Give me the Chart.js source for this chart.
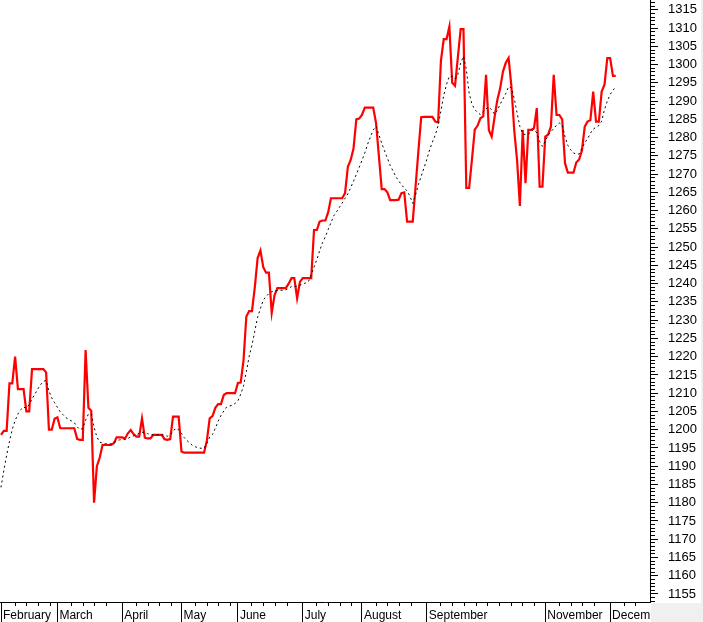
<!DOCTYPE html>
<html>
<head>
<meta charset="utf-8">
<script src="https://cdn.jsdelivr.net/npm/chart.js@4.4.0/dist/chart.umd.min.js"></script>
<style>
  html, body { margin: 0; padding: 0; background: #fff; }
  canvas { display: block; }
</style>
</head>
<body>
<canvas id="chart" width="703" height="622"></canvas>
<script>
// month labels and the trading day each month starts on
const monthNames = ['February', 'March', 'April', 'May', 'June', 'July', 'August', 'September', 'November', 'December'];
const monthStarts = [0, 20, 43, 64, 84, 107, 128, 151, 193, 216];

// daily closes (red)
const price = [
  1198.6, 1199.7, 1199.7, 1212.7, 1212.7, 1220, 1211.1, 1211.1, 1211.1, 1205,
  1205, 1216.6, 1216.6, 1216.6, 1216.6, 1216.6, 1215.7, 1200, 1200, 1203,
  1203.4, 1200.4, 1200.4, 1200.4, 1200.4, 1200.4, 1200.4, 1197.5, 1197.2, 1197.2,
  1221.8, 1206, 1205.2, 1180, 1190, 1192.3, 1195.8, 1195.8, 1195.8, 1195.8,
  1196.3, 1197.9, 1197.9, 1197.9, 1197.6, 1199, 1199.9, 1198.8, 1198.1, 1198.1,
  1203.1, 1197.8, 1197.6, 1197.6, 1198.6, 1198.6, 1198.6, 1198.6, 1197.4, 1197.2,
  1197.4, 1203.6, 1203.6, 1203.6, 1194, 1193.7, 1193.7, 1193.7, 1193.7, 1193.7,
  1193.7, 1193.7, 1193.7, 1197, 1203.1, 1203.7, 1206, 1207, 1207, 1209.5,
  1210, 1210, 1210, 1210, 1212.8, 1212.9, 1219, 1231, 1232.5, 1232.5,
  1239, 1247, 1249.1, 1244.5, 1243, 1243, 1232, 1236.8, 1238.8, 1238.8,
  1238.8, 1238.8, 1240, 1241.5, 1241.5, 1236, 1240.5, 1241.5, 1241.5, 1241.5,
  1241.5, 1254.7, 1254.7, 1257, 1257.3, 1257.3, 1259.5, 1263.4, 1263.4, 1263.4,
  1263.4, 1263.4, 1264.8, 1272, 1273.9, 1277, 1285, 1285.2, 1286.2, 1288.2,
  1288.2, 1288.2, 1288.2, 1284, 1275, 1265.9, 1265.9, 1265, 1262.9, 1262.9,
  1262.9, 1263, 1264.8, 1265, 1257, 1257, 1257, 1266.5, 1276.2, 1285.6,
  1285.7, 1285.7, 1285.7, 1285.7, 1284.4, 1284.2, 1301, 1307, 1307, 1310.4,
  1295, 1294.2, 1302, 1309.7, 1309.7, 1266.2, 1266.2, 1274, 1282.2, 1283.3,
  1285.3, 1285.8, 1297.2, 1282, 1280.3, 1285.5, 1290.3, 1293.5, 1298.1, 1300.5,
  1301.8, 1294, 1282, 1273.9, 1261.3, 1282.1, 1267.5, 1282.1, 1282.1, 1282.6,
  1288.1, 1266.6, 1266.6, 1280.3, 1280.8, 1283, 1297.2, 1286.2, 1286.2, 1285,
  1273, 1270.4, 1270.4, 1270.4, 1273.2, 1274, 1276.5, 1283, 1284.4, 1284.8,
  1292.6, 1284.4, 1284.4, 1292.6, 1294.5, 1301.8, 1301.8, 1296.9, 1296.9
];

// moving average (black dotted)
const average = [
  1184.2, 1188.8, 1193, 1196.8, 1200.1, 1202.5, 1204.3, 1205.5, 1206.2, 1205.9,
  1206.9, 1208.4, 1209.7, 1211.1, 1212.3, 1213.2, 1213.5, 1210.6, 1208.7, 1207.4,
  1206.1, 1204.9, 1204.1, 1203.3, 1202.8, 1202.4, 1201.9, 1200.8, 1200, 1200.4,
  1202.6, 1204.3, 1204.3, 1200.7, 1198, 1196.6, 1196.3, 1196.2, 1196.1, 1196.1,
  1196.3, 1196.9, 1197.2, 1197.3, 1197.3, 1197.6, 1198, 1198.3, 1198.6, 1199,
  1199.3, 1199.3, 1198.9, 1198.6, 1198.6, 1198.6, 1198.6, 1198.6, 1198.5, 1198.2,
  1198.6, 1199.5, 1200.4, 1200, 1199, 1197.8, 1197, 1196.3, 1195.6, 1195.3,
  1195, 1194.9, 1194.9, 1196.2, 1198, 1198.7, 1200.4, 1202.3, 1203.9, 1205.1,
  1206.2, 1206.5, 1206.7, 1207.2, 1207.9, 1209.7, 1212, 1215.9, 1220.1, 1223.2,
  1227, 1230.8, 1233.2, 1235.5, 1236.5, 1237.3, 1237.8, 1238, 1238.1, 1238.2,
  1238.2, 1238.3, 1238.7, 1239.2, 1239.2, 1239.3, 1239.6, 1239.9, 1240.2, 1240.5,
  1242.5, 1244.5, 1246.6, 1249, 1251.2, 1252.8, 1254.8, 1256.7, 1258.6, 1259.7,
  1260.9, 1262.1, 1263.4, 1264.6, 1266.3, 1268.1, 1269.9, 1271.8, 1273.8, 1275.8,
  1278.2, 1280.2, 1282.1, 1283.1, 1280.8, 1278.5, 1276.4, 1274.4, 1272.4, 1270.9,
  1269.3, 1268.2, 1267.1, 1266.2, 1265.4, 1264, 1262, 1264.3, 1267.1, 1269.4,
  1271.7, 1274.1, 1276.7, 1278.8, 1280.7, 1283.3, 1287.3, 1291.6, 1294.6, 1296.8,
  1296.8, 1296.1, 1297.3, 1300.4, 1302.3, 1298.7, 1292.2, 1289.2, 1287.7, 1286.9,
  1286.3, 1287.1, 1287.9, 1288.4, 1287.6, 1286.4, 1287.5, 1289.1, 1290.6, 1292.1,
  1294, 1293.6, 1290.7, 1286.8, 1283, 1281.1, 1280.8, 1281, 1281.6, 1282.3,
  1281.3, 1279, 1277.6, 1279, 1280.7, 1281.6, 1282.5, 1283.4, 1284, 1283.6,
  1280.3, 1277.9, 1276.7, 1275.8, 1275.5, 1275.5, 1277.1, 1278.6, 1279.7, 1281.2,
  1282.3, 1282.9, 1283.3, 1284.5, 1287.7, 1290, 1291.8, 1293, 1293.8
];

const yMin = 1152.8, yMax = 1317.7;
const xMin = -0.355, xMax = 230.14;

// small week marks between the month lines
const weekTicks = [];
for (let m = 0; m < monthStarts.length; m++) {
  const end = m + 1 < monthStarts.length ? monthStarts[m + 1] : xMax;
  for (let d = monthStarts[m] + 5; d < end - 1.5; d += 4.15) weekTicks.push(d);
}

const pts = (arr) => arr.map((v, i) => ({ x: i, y: v }));

Chart.defaults.font.family = '"Liberation Sans", Arial, sans-serif';
Chart.defaults.font.size = 12;
Chart.defaults.color = '#000';

const cornerPlugin = {
  id: 'corner',
  afterDraw(chart) {
    const c = chart.ctx, a = chart.chartArea;
    c.save();
    c.fillStyle = '#f0f0f0';
    c.fillRect(a.right + 1, a.bottom + 1, chart.width - a.right - 1, chart.height - a.bottom - 1);
    c.fillRect(chart.width - 2, 0, 2, chart.height);
    c.restore();
  }
};

new Chart(document.getElementById('chart'), {
  type: 'line',
  data: {
    datasets: [
      {
        data: pts(average),
        borderColor: '#000',
        borderWidth: 1,
        borderDash: [2, 3],
        pointRadius: 0,
        order: 0
      },
      {
        data: pts(price),
        borderColor: '#ff0000',
        borderWidth: 2.2,
        pointRadius: 0,
        order: 1
      }
    ]
  },
  options: {
    responsive: false,
    animation: false,
    devicePixelRatio: 1,
    layout: { padding: 0 },
    plugins: { legend: { display: false }, tooltip: { enabled: false } },
    scales: {
      x: {
        type: 'linear',
        position: 'bottom',
        min: xMin,
        max: xMax,
        afterBuildTicks: (s) => {
          s.ticks = monthStarts.map(v => ({ value: v, major: true }))
            .concat(weekTicks.map(v => ({ value: v })))
            .sort((a, b) => a.value - b.value);
        },
        afterFit: (s) => {
          s.height = 20;
          s.paddingLeft = 0; s.paddingRight = 0;
          s.paddingTop = 0; s.paddingBottom = 0;
        },
        ticks: {
          autoSkip: false,
          maxRotation: 0,
          align: 'start',
          labelOffset: 2,
          padding: -14,
          callback: (v) => {
            const k = monthStarts.indexOf(v);
            return k >= 0 ? monthNames[k] : '';
          }
        },
        grid: {
          drawOnChartArea: false,
          tickLength: 20,
          tickColor: '#000',
          tickWidth: 1,
          tickBorderDash: (c) => (c.tick && c.tick.major) ? [] : [3, 40]
        },
        border: { display: true, color: '#000', width: 1 }
      },
      y: {
        type: 'linear',
        position: 'right',
        min: yMin,
        max: yMax,
        afterBuildTicks: (s) => {
          const t = [];
          for (let v = Math.ceil(yMin); v <= yMax; v++) t.push({ value: v });
          s.ticks = t;
        },
        afterFit: (s) => {
          s.width = 53;
          s.paddingLeft = 0; s.paddingRight = 0;
          s.paddingTop = 0; s.paddingBottom = 0;
        },
        ticks: {
          autoSkip: false,
          padding: 10,
          font: { size: 13 },
          callback: (v) => (v % 5 === 0 ? String(v) : '')
        },
        grid: {
          drawOnChartArea: false,
          tickLength: 8,
          tickColor: '#000',
          tickWidth: 1,
          tickBorderDash: (c) => (c.tick && c.tick.value % 5 === 0) ? [] : [4, 20]
        },
        border: { display: true, color: '#000', width: 1 }
      }
    }
  },
  plugins: [cornerPlugin]
});
</script>
</body>
</html>
